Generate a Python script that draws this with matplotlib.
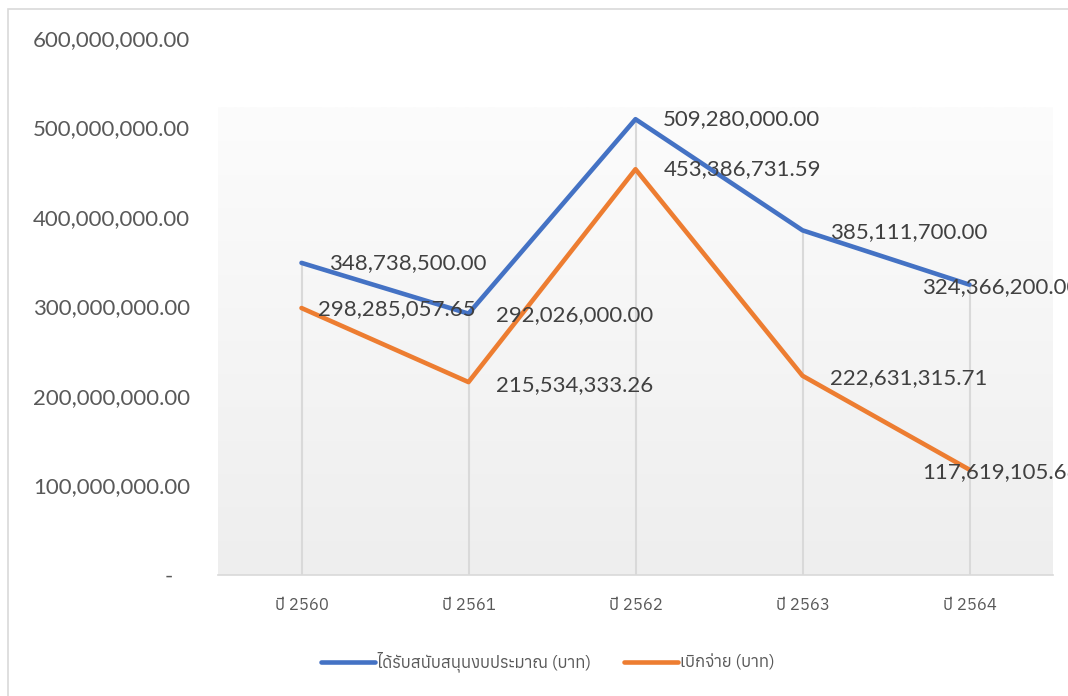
import numpy as np
import matplotlib
matplotlib.use("Agg")
import matplotlib.pyplot as plt
from matplotlib import font_manager
from matplotlib.ft2font import FT2Font
from matplotlib.patches import Rectangle

# --- data ---
years = ["ปี 2560", "ปี 2561", "ปี 2562", "ปี 2563", "ปี 2564"]
budget = [348738500.00, 292026000.00, 509280000.00, 385111700.00, 324366200.00]
spent = [298285057.65, 215534333.26, 453386731.59, 222631315.71, 117619105.68]
budget_name = "ได้รับสนับสนุนงบประมาณ (บาท)"
spent_name = "เบิกจ่าย (บาท)"
y_ticks = [0, 100000000, 200000000, 300000000, 400000000, 500000000, 600000000]

# find a font that has Thai glyphs
thai_found = []
for f in font_manager.fontManager.ttflist:
    try:
        ft = FT2Font(f.fname)
        if ft.get_char_index(ord("ป")) and ft.get_char_index(ord("ไ")):
            thai_found.append(f.name)
    except Exception:
        pass
thai_family = sorted(set(thai_found))[0] if thai_found else None
cat_fonts = [thai_family, "DejaVu Sans"] if thai_family else ["DejaVu Sans"]

num_font = "Lato"
grey_txt = "#595959"
lbl_txt = "#404040"
blue = "#4472C4"
orange = "#ED7D31"

fig = plt.figure(figsize=(10.68, 6.96), dpi=100)
# outer chart border
fig.patches.append(Rectangle((8 / 1068, -0.05), 1.2, (696 - 9) / 696 + 0.05,
                             transform=fig.transFigure, fill=False,
                             edgecolor="#d9d9d9", lw=1.2))

ax = fig.add_axes([218 / 1068, 121 / 696, 835 / 1068, 537 / 696])
x = np.arange(len(years))

# plot area gradient
grad = np.linspace(0, 1, 256).reshape(-1, 1)
cmap = matplotlib.colors.LinearSegmentedColormap.from_list("g", ["#eeeeee", "#fcfcfc"])
ax.imshow(grad, cmap=cmap, origin="lower", aspect="auto",
          extent=(-0.5, len(years) - 0.5, 0, 5.22e8), zorder=0)

# drop lines
tops = np.maximum(budget, spent)
ax.vlines(x, 0, tops, color="#d9d9d9", lw=1.5, zorder=1)

ax.plot(x, budget, color=blue, lw=3.3, solid_capstyle="round", zorder=3, label=budget_name)
ax.plot(x, spent, color=orange, lw=3.3, solid_capstyle="round", zorder=3, label=spent_name)

# data labels (offsets in points)
budget_off = [(20, 0), (20, -1), (20, 0), (20, -1), (-34, -2)]
spent_off = [(12, -1), (20, -2), (20, 0), (20, -2), (-34, -2)]
for i, v in enumerate(budget):
    ax.annotate(f"{v:,.2f}", (x[i], v), xytext=budget_off[i], textcoords="offset points",
                ha="left", va="center", fontsize=16, family=num_font, color=lbl_txt,
                annotation_clip=False, zorder=4)
for i, v in enumerate(spent):
    ax.annotate(f"{v:,.2f}", (x[i], v), xytext=spent_off[i], textcoords="offset points",
                ha="left", va="center", fontsize=16, family=num_font, color=lbl_txt,
                annotation_clip=False, zorder=4)

ax.set_xlim(-0.5, len(years) - 0.5)
ax.set_ylim(0, 600000000)
ax.set_yticks(y_ticks)
ax.set_yticklabels([f"{t:,.2f}" if t else "-   " for t in y_ticks],
                   family=num_font, fontsize=16, color=grey_txt)
ax.set_xticks(x)
ax.set_xticklabels(years, family=cat_fonts, fontsize=12, color=grey_txt)
ax.tick_params(axis="y", length=0, pad=20)
ax.tick_params(axis="x", length=0, pad=16)
for s in ["top", "right", "left"]:
    ax.spines[s].set_visible(False)
ax.spines["bottom"].set_color("#d9d9d9")
ax.spines["bottom"].set_linewidth(1.2)
ax.set_facecolor("none")

leg = fig.legend(loc="center", bbox_to_anchor=(548 / 1068, 1 - 662 / 696), ncol=2,
                 frameon=False, handlelength=3.2, handletextpad=0.15, columnspacing=2.0,
                 prop={"family": cat_fonts, "size": 12})
for t in leg.get_texts():
    t.set_color(grey_txt)

fig.savefig("out.png", dpi=100)
